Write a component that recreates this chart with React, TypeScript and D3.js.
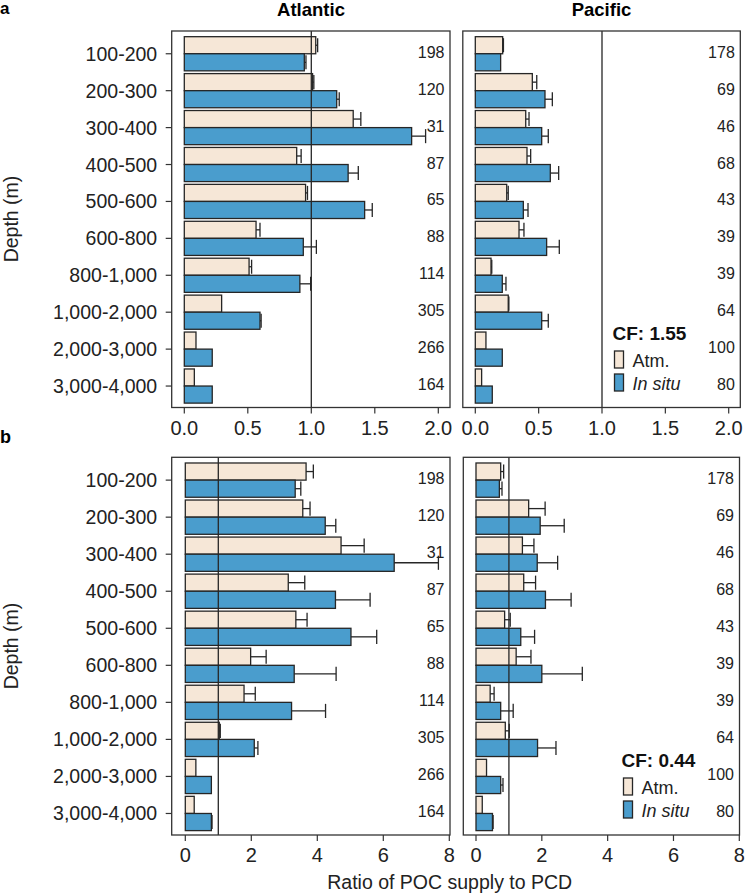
import React from "react";
import * as d3 from "d3";

const categories = ["100-200","200-300","300-400","400-500","500-600","600-800","800-1,000","1,000-2,000","2,000-3,000","3,000-4,000"];
const atlanticCounts = [198,120,31,87,65,88,114,305,266,164];
const pacificCounts = [178,69,46,68,43,39,39,64,100,80];

// Panel a – Atlantic
const atmA_Atl = [1.035,1.01,1.33,0.885,0.955,0.565,0.51,0.294,0.092,0.079];
const atmA_Atl_err = [1.05,1.02,1.39,0.92,0.97,0.596,0.53,null,null,null];
const insA_Atl = [0.945,1.2,1.79,1.29,1.42,0.937,0.91,0.596,0.22,0.22];
const insA_Atl_err = [0.958,1.22,1.9,1.37,1.48,1.04,0.995,0.605,null,null];
// Panel a – Pacific
const atmA_Pac = [0.216,0.45,0.398,0.408,0.248,0.345,0.124,0.26,0.084,0.05];
const atmA_Pac_err = [0.222,0.485,0.424,0.437,0.26,0.384,0.13,0.265,null,null];
const insA_Pac = [0.2,0.55,0.524,0.592,0.379,0.563,0.213,0.524,0.213,0.134];
const insA_Pac_err = [null,0.608,0.576,0.658,0.416,0.663,0.242,0.576,null,null];
// Panel b – Atlantic
const atmB_Atl = [3.66,3.56,4.72,3.12,3.35,1.98,1.78,1.03,0.32,0.27];
const atmB_Atl_err = [3.88,3.78,5.42,3.62,3.69,2.45,2.12,1.06,null,null];
const insB_Atl = [3.33,4.24,6.33,4.55,5.02,3.3,3.22,2.09,0.79,0.79];
const insB_Atl_err = [3.5,4.56,7.67,5.6,5.8,4.57,4.25,2.2,null,0.81];
// Panel b – Pacific
const atmB_Pac = [0.75,1.6,1.41,1.45,0.87,1.22,0.43,0.89,0.32,0.19];
const atmB_Pac_err = [0.84,2.1,1.76,1.81,1.04,1.67,0.55,1.01,null,null];
const insB_Pac = [0.71,1.95,1.86,2.11,1.36,2.0,0.75,1.87,0.75,0.5];
const insB_Pac_err = [0.79,2.68,2.48,2.89,1.78,3.23,1.13,2.43,0.82,0.52];

const ticksA = [0, 0.5, 1.0, 1.5, 2.0];
const ticksB = [0, 2, 4, 6, 8];
const seriesNames = ["Atm.", "In situ"];
const cfA = "CF: 1.55";
const cfB = "CF: 0.44";

const ATM_FILL = "#F6E7D7";
const INS_FILL = "#4A9DCD";
const STROKE = "#262626";
const FONT = "Liberation Sans, Arial, sans-serif";

type PanelProps = {
  fl: number; fr: number; ft: number; fb: number;
  x0: number; x1: number; dmax: number; ticks: number[]; fmt: (v: number) => string;
  atm: (number | null)[]; atmErr: (number | null)[];
  ins: (number | null)[]; insErr: (number | null)[];
  counts: number[]; showY: boolean; legend?: { x: number; y: number; cf: string };
};

function Panel(p: PanelProps) {
  const x = d3.scaleLinear().domain([0, p.dmax]).range([p.x0, p.x1]);
  const y = d3.scaleBand<string>().domain(categories).range([p.ft + 4.3, p.fb - 3]).paddingInner(0.075).paddingOuter(0.0375);
  const sub = d3.scaleBand<string>().domain(["a", "i"]).range([0, y.bandwidth()]);
  const bh = sub.bandwidth();
  const rows = categories.map((c, i) => ({ c, i }));
  const bar = (c: string, key: string, v: number, e: number | null, fill: string) => {
    const yy = (y(c) as number) + (sub(key) as number);
    const xv = x(v);
    return (
      <g key={c + key}>
        <rect x={x(0)} y={yy} width={xv - x(0)} height={bh} fill={fill} stroke={STROKE} strokeWidth={1.3} />
        {e != null && (
          <g stroke={STROKE} strokeWidth={1.3}>
            <line x1={xv} x2={x(e)} y1={yy + bh / 2} y2={yy + bh / 2} />
            <line x1={x(e)} x2={x(e)} y1={yy + 1.5} y2={yy + bh - 1.5} />
          </g>
        )}
      </g>
    );
  };
  return (
    <g>
      {rows.map(({ c, i }) => (
        <g key={c}>
          {bar(c, "a", p.atm[i] as number, p.atmErr[i], ATM_FILL)}
          {bar(c, "i", p.ins[i] as number, p.insErr[i], INS_FILL)}
          <text x={p.fr - 5.5} y={(y(c) as number) + y.bandwidth() / 2 - 1.5} textAnchor="end" dominantBaseline="central" fontSize={16} fill="#222">{p.counts[i]}</text>
        </g>
      ))}
      <line x1={x(1)} x2={x(1)} y1={p.ft} y2={p.fb} stroke={STROKE} strokeWidth={1.3} />
      <rect x={p.fl} y={p.ft} width={p.fr - p.fl} height={p.fb - p.ft} fill="none" stroke="#333" strokeWidth={1.3} />
      {p.ticks.map((t) => (
        <g key={t}>
          <line x1={x(t)} x2={x(t)} y1={p.fb} y2={p.fb + 6} stroke="#333" strokeWidth={1.2} />
          <text x={x(t)} y={p.fb + 27} textAnchor="middle" fontSize={20} fill="#222">{p.fmt(t)}</text>
        </g>
      ))}
      {p.showY && rows.map(({ c }) => {
        const cy = (y(c) as number) + y.bandwidth() / 2;
        return (
          <g key={"y" + c}>
            <line x1={p.fl - 6} x2={p.fl} y1={cy} y2={cy} stroke="#333" strokeWidth={1.2} />
            <text x={p.fl - 14.5} y={cy} textAnchor="end" dominantBaseline="central" fontSize={19.5} fill="#222">{c}</text>
          </g>
        );
      })}
      {p.legend && (
        <g>
          <text x={p.legend.x - 2} y={p.legend.y} fontSize={19} fontWeight="bold" fill="#111">{p.legend.cf}</text>
          <rect x={p.legend.x} y={p.legend.y + 11} width={9} height={17} fill={ATM_FILL} stroke={STROKE} strokeWidth={1.3} />
          <text x={p.legend.x + 18} y={p.legend.y + 27} fontSize={18} fill="#222">{seriesNames[0]}</text>
          <rect x={p.legend.x} y={p.legend.y + 34} width={9} height={17} fill={INS_FILL} stroke={STROKE} strokeWidth={1.3} />
          <text x={p.legend.x + 18} y={p.legend.y + 50} fontSize={18} fontStyle="italic" fill="#222">{seriesNames[1]}</text>
        </g>
      )}
    </g>
  );
}

export default function App() {
  const fmtA = (v: number) => d3.format(".1f")(v);
  const fmtB = (v: number) => d3.format("d")(v);
  return (
    <svg width={746} height={895} style={{ position: "absolute", left: 0, top: 0, background: "#fff" }} fontFamily={FONT}>
      <rect width={746} height={895} fill="#fff" />
      <text x={0} y={14} fontSize={17} fontWeight="bold">a</text>
      <text x={0} y={442.5} fontSize={18} fontWeight="bold">b</text>
      <text x={311} y={15.5} textAnchor="middle" fontSize={18.5} fontWeight="bold">Atlantic</text>
      <text x={601.5} y={15.5} textAnchor="middle" fontSize={18.5} fontWeight="bold">Pacific</text>
      <text transform="translate(18,219) rotate(-90)" textAnchor="middle" fontSize={19.5} fill="#222">Depth (m)</text>
      <text transform="translate(18,646) rotate(-90)" textAnchor="middle" fontSize={19.5} fill="#222">Depth (m)</text>
      <text x={449.7} y={889} textAnchor="middle" fontSize={19.5} fill="#222">Ratio of POC supply to PCD</text>

      <Panel fl={171.7} fr={450} ft={31} fb={407.5} x0={184.3} x1={438.3} dmax={2} ticks={ticksA} fmt={fmtA}
        atm={atmA_Atl} atmErr={atmA_Atl_err} ins={insA_Atl} insErr={insA_Atl_err} counts={atlanticCounts} showY={true} />
      <Panel fl={462.8} fr={740.3} ft={31} fb={407.5} x0={475.3} x1={728.7} dmax={2} ticks={ticksA} fmt={fmtA}
        atm={atmA_Pac} atmErr={atmA_Pac_err} ins={insA_Pac} insErr={insA_Pac_err} counts={pacificCounts} showY={false}
        legend={{ x: 614.5, y: 340, cf: cfA }} />
      <Panel fl={171.7} fr={450} ft={457.3} fb={835} x0={185.3} x1={449.3} dmax={8} ticks={ticksB} fmt={fmtB}
        atm={atmB_Atl} atmErr={atmB_Atl_err} ins={insB_Atl} insErr={insB_Atl_err} counts={atlanticCounts} showY={true} />
      <Panel fl={463.3} fr={739.5} ft={457.3} fb={835} x0={476} x1={739.3} dmax={8} ticks={ticksB} fmt={fmtB}
        atm={atmB_Pac} atmErr={atmB_Pac_err} ins={insB_Pac} insErr={insB_Pac_err} counts={pacificCounts} showY={false}
        legend={{ x: 623.5, y: 767, cf: cfB }} />
    </svg>
  );
}
